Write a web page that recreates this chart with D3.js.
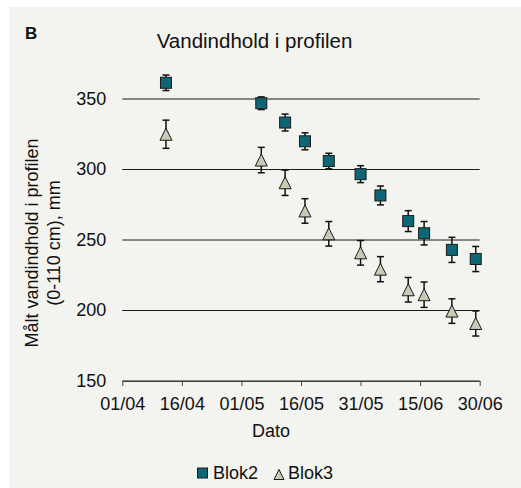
<!DOCTYPE html>
<html>
<head>
<meta charset="utf-8">
<script src="https://cdn.jsdelivr.net/npm/d3@7"></script>
<style>
body { margin: 0; background: #fff; }
text { font-family: "Liberation Sans", Arial, sans-serif; fill: #111; }
</style>
</head>
<body>
<script>
var dates = ['2010-04-12', '2010-05-06', '2010-05-12', '2010-05-17', '2010-05-23', '2010-05-31',
             '2010-06-05', '2010-06-12', '2010-06-16', '2010-06-23', '2010-06-29']
var blok2 = [361.5, 347, 333.3, 320, 306, 296.7, 281.6, 263.4, 254.8, 243, 236.5]
var blok2Err = [5.5, 4.5, 6, 6, 5.5, 6, 6.7, 7.4, 8.3, 8.9, 8.9]
var blok3 = [325, 306.7, 290.6, 270.6, 254.4, 240.9, 229.3, 214.7, 211.2, 199.6, 190.8]
var blok3Err = [10, 9, 9, 8.7, 8.7, 8.7, 8.9, 8.7, 9, 8.7, 8.9]
var xTicks = ['2010-04-01', '2010-04-16', '2010-05-01', '2010-05-16', '2010-05-31', '2010-06-15', '2010-06-30']
var yTicks = [150, 200, 250, 300, 350]
var seriesNames = ['Blok2', 'Blok3']

var parse = d3.utcParse('%Y-%m-%d')

var svg = d3.select('body').append('svg').attr('width', 521).attr('height', 488)

svg.append('rect').attr('x', 9).attr('y', 7).attr('width', 512).attr('height', 481).attr('fill', '#f3f3ef')

var x = d3.scaleUtc().domain([parse(xTicks[0]), parse(xTicks[xTicks.length - 1])]).range([122.3, 479.7])
var y = d3.scaleLinear().domain([150, 350]).range([381, 99])

// gridlines + y labels
var yAxis = svg.append('g').attr('transform', 'translate(122.3,-0.5)')
  .call(d3.axisLeft(y).tickValues(yTicks).tickSize(-(479.7 - 122.3)).tickPadding(16))
yAxis.select('.domain').remove()
yAxis.selectAll('line').attr('stroke', '#1a1a1a')
yAxis.selectAll('text').attr('font-size', 18).attr('font-family', '"Liberation Sans", Arial, sans-serif').attr('fill', '#111')

var xAxis = svg.append('g').attr('transform', 'translate(0,381)')
  .call(d3.axisBottom(x).tickValues(xTicks.map(parse)).tickFormat(d3.utcFormat('%d/%m')).tickSizeInner(5).tickSizeOuter(0).tickPadding(11))
xAxis.select('.domain').attr('stroke', '#444')
xAxis.selectAll('line').attr('stroke', '#444')
xAxis.selectAll('text').attr('font-size', 18).attr('font-family', '"Liberation Sans", Arial, sans-serif').attr('fill', '#111')

function errBars(vals, errs) {
  var g = svg.append('g').attr('stroke', '#111').attr('stroke-width', 1.5)
  vals.forEach(function(v, i) {
    var cx = x(parse(dates[i]))
    g.append('line').attr('x1', cx).attr('x2', cx).attr('y1', y(v - errs[i])).attr('y2', y(v + errs[i]))
    g.append('line').attr('x1', cx - 3.5).attr('x2', cx + 3.5).attr('y1', y(v - errs[i])).attr('y2', y(v - errs[i]))
    g.append('line').attr('x1', cx - 3.5).attr('x2', cx + 3.5).attr('y1', y(v + errs[i])).attr('y2', y(v + errs[i]))
  })
}

errBars(blok2, blok2Err)
errBars(blok3, blok3Err)

var tri = function(cx, cy, s) {
  return 'M' + cx + ',' + (cy - s / 2) + 'L' + (cx + s / 2) + ',' + (cy + s / 2) + 'L' + (cx - s / 2) + ',' + (cy + s / 2) + 'Z'
}

svg.append('g').selectAll('rect').data(blok2).join('rect')
  .attr('x', function(d, i) { return x(parse(dates[i])) - 5.5 })
  .attr('y', function(d) { return y(d) - 5.5 })
  .attr('width', 11).attr('height', 11)
  .attr('fill', '#0e6674').attr('stroke', '#1a1a1a').attr('stroke-width', 1)

svg.append('g').selectAll('path').data(blok3).join('path')
  .attr('d', function(d, i) { return tri(x(parse(dates[i])), y(d), 12) })
  .attr('fill', '#c9c9b5').attr('stroke', '#1a1a1a').attr('stroke-width', 1)

// titles
svg.append('text').attr('x', 25).attr('y', 38.5).attr('font-size', 17).attr('font-weight', 'bold').text('B')
svg.append('text').attr('x', 254.5).attr('y', 47.5).attr('text-anchor', 'middle').attr('font-size', 20.5).text('Vandindhold i profilen')
svg.append('text').attr('x', 271).attr('y', 436.5).attr('text-anchor', 'middle').attr('font-size', 18).text('Dato')

var yl = svg.append('text').attr('transform', 'translate(38,243) rotate(-90)').attr('text-anchor', 'middle').attr('font-size', 18)
yl.append('tspan').attr('x', 0).attr('y', 0).text('Målt vandindhold i profilen')
yl.append('tspan').attr('x', 0).attr('y', 21.5).text('(0-110 cm), mm')

// legend
var leg = svg.append('g')
leg.append('rect').attr('x', 197.5).attr('y', 468).attr('width', 10).attr('height', 10)
  .attr('fill', '#0e6674').attr('stroke', '#1a1a1a')
leg.append('text').attr('x', 213).attr('y', 478.5).attr('font-size', 18).text(seriesNames[0])
leg.append('path').attr('d', tri(279, 474.5, 10)).attr('fill', '#c9c9b5').attr('stroke', '#1a1a1a')
leg.append('text').attr('x', 288).attr('y', 478.5).attr('font-size', 18).text(seriesNames[1])
</script>
</body>
</html>
